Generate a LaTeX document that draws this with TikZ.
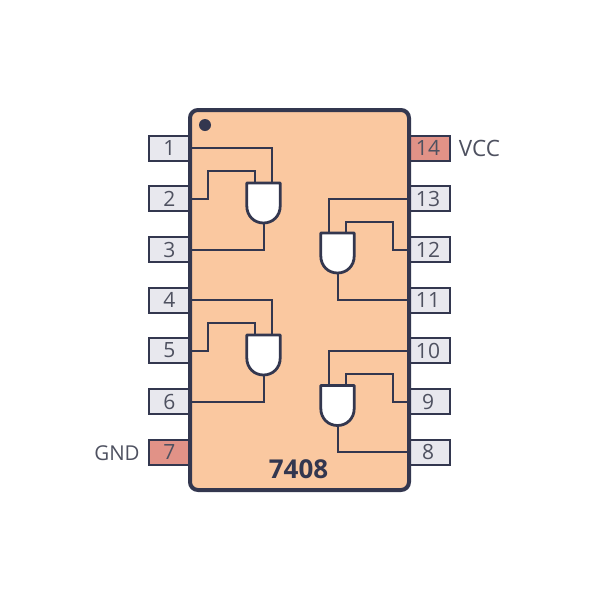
\documentclass[tikz,border=0pt]{standalone}
\usepackage{fontspec}
\setmainfont{Open Sans}
\definecolor{ink}{HTML}{33374F}
\definecolor{txt}{HTML}{4E5160}
\definecolor{chipfill}{HTML}{FAC8A0}
\definecolor{pinfill}{HTML}{E8E8EE}
\definecolor{pinred}{HTML}{E19287}
\newcommand{\rp}[1]{#1\kern3pt}
\tikzset{
  pinbox/.style={draw=ink,line width=2pt,fill=pinfill,minimum width=41pt,minimum height=25pt,inner sep=0pt,text=txt,font=\fontsize{21}{25}\selectfont},
  pinpower/.style={pinbox,fill=pinred},
  wire/.style={draw=ink,line width=2pt,line join=miter},
  gatebody/.style={draw=ink,line width=2.8pt,fill=white,line join=round},
  chipbody/.style={draw=ink,line width=4pt,fill=chipfill,rounded corners=8pt},
  lbl/.style={text=txt,font=\fontsize{22.5}{26}\selectfont,inner sep=0pt}
}
% #1 name, #2 left x, #3 top y : AND gate pointing down, 33 wide, 40 tall
\newcommand{\andgate}[3]{%
  \draw[gatebody] (#2,#3) -- (#2+33.4,#3) -- (#2+33.4,#3+23)
    .. controls (#2+33.4,#3+33) and (#2+26,#3+40) .. (#2+16.7,#3+40)
    .. controls (#2+7.4,#3+40) and (#2,#3+33) .. (#2,#3+23) -- cycle;
}
\begin{document}
\begin{tikzpicture}[x=1pt,y=-1pt]
\useasboundingbox (0,0) rectangle (600,600);
% pins
\node[pinbox] (p1) at (169.5,148) {1};
\node[pinbox] (p2) at (169.5,198.5) {2};
\node[pinbox] (p3) at (169.5,249.5) {3};
\node[pinbox] (p4) at (169.5,300) {4};
\node[pinbox] (p5) at (169.5,350.5) {5};
\node[pinbox] (p6) at (169.5,401.5) {6};
\node[pinpower] (p7) at (169.5,452) {7};
\node[pinpower] (p14) at (429.5,148) {\rp{14}};
\node[pinbox] (p13) at (429.5,198.5) {\rp{13}};
\node[pinbox] (p12) at (429.5,249.5) {\rp{12}};
\node[pinbox] (p11) at (429.5,300) {\rp{11}};
\node[pinbox] (p10) at (429.5,350.5) {\rp{10}};
\node[pinbox] (p9) at (429.5,401.5) {\rp{9}};
\node[pinbox] (p8) at (429.5,452) {\rp{8}};
% chip
\path[chipbody] (190,110) rectangle (409,490);
\fill[ink] (205,125) circle (6);
\node[text=ink,font=\fontsize{26}{30}\bfseries\selectfont,inner sep=0pt] (title) at (298.5,469) {7408};
\node[lbl] (vcc) at (479.5,148) {VCC};
\node[lbl,font=\fontsize{20.5}{24}\selectfont] (gnd) at (117,453) {GND};
% wiring, gate 1
\coordinate (a1) at (272,183); \coordinate (a2) at (255,183); \coordinate (a3) at (263.5,223);
\draw[wire] (p1.east) -| (a1);
\draw[wire] (p2.east) -- (208,198.5) |- (255,170.5) -- (a2);
\draw[wire] (p3.east) -| (a3);
% gate 2
\coordinate (b1) at (329,233); \coordinate (b2) at (346,233); \coordinate (b3) at (337.5,273);
\draw[wire] (p13.west) -| (b1);
\draw[wire] (p12.west) -- (392.5,249.5) |- (346,221.5) -- (b2);
\draw[wire] (p11.west) -| (b3);
% gate 3
\coordinate (c1) at (272,335); \coordinate (c2) at (255,335); \coordinate (c3) at (263.5,375);
\draw[wire] (p4.east) -| (c1);
\draw[wire] (p5.east) -- (208,350.5) |- (255,323) -- (c2);
\draw[wire] (p6.east) -| (c3);
% gate 4
\coordinate (d1) at (329,385.5); \coordinate (d2) at (346,385.5); \coordinate (d3) at (337.5,425.5);
\draw[wire] (p10.west) -| (d1);
\draw[wire] (p9.west) -- (392.5,401.5) |- (346,373.5) -- (d2);
\draw[wire] (p8.west) -| (d3);
% gates
\andgate{g1}{246.8}{183}
\andgate{g2}{320.8}{233}
\andgate{g3}{246.8}{335}
\andgate{g4}{320.8}{385.5}
\end{tikzpicture}
\end{document}
